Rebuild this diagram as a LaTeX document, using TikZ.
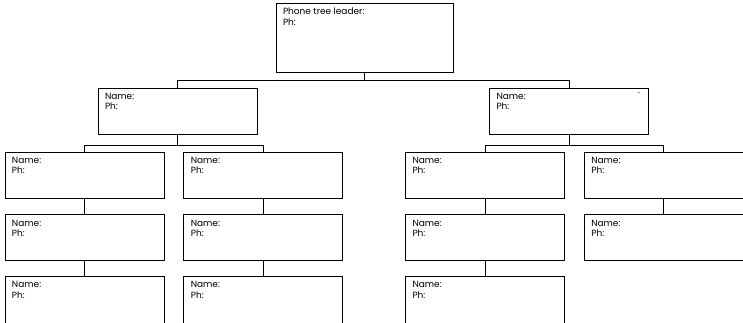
\documentclass[tikz,border=0pt]{standalone}
\usepackage{fontspec}
\setmainfont{Poppins}
\usetikzlibrary{positioning}

\begin{document}
\begin{tikzpicture}[x=1pt, y=-1pt, line width=0.8pt]
    \tikzset{
      txt/.style={anchor=north west, align=left, inner sep=0pt, xshift=7pt, yshift=-5pt, font=\fontsize{9}{10.5}\selectfont},
      card/.style={draw, minimum width=159pt, minimum height=46pt, inner sep=0pt, label={[txt]north west:Name:\\Ph:}},
    }
    \useasboundingbox (0,0) rectangle (743,322);
    \clip (0,0) rectangle (743,322);
    \node [draw, minimum width=177pt, minimum height=69pt, label={[txt]north west:Phone tree leader:\\Ph:}] (lead) at (364.5,37.5) {};
    \node [card] (na) at (177.5,111) {};
    \node [card] (nb) at (569,111) {};
    \node [font=\fontsize{6}{6}\selectfont, inner sep=0pt] (mark) at (639,94) {-};
    \node [card] (a1) at (84.5,175) {};
    \node [card, right=19pt of a1] (b1) {};
    \node [card] (c1) at (485,175) {};
    \node [card, right=19pt of c1] (d1) {};
    \node [card, below=16pt of a1] (a2) {};
    \node [card, below=16pt of b1] (b2) {};
    \node [card, below=16pt of c1] (c2) {};
    \node [card, below=16pt of d1] (d2) {};
    \node [card, minimum height=52pt, below=15pt of a2] (a3) {};
    \node [card, minimum height=52pt, below=15pt of b2] (b3) {};
    \node [card, minimum height=52pt, below=15pt of c2] (c3) {};
    \draw (lead.south) -- ++(0,8) -| (na.north);
    \draw (lead.south) -- ++(0,8) -| (nb.north);
    \draw (na.south) -- ++(0,11) -| (a1.north);
    \draw (na.south) -- ++(0,11) -| (b1.north);
    \draw (nb.south) -- ++(0,11) -| (c1.north);
    \draw (nb.south) -- ++(0,11) -| (d1.north);
    \draw (a1) edge (a2) (a2) edge (a3) (b1) edge (b2) (b2) edge (b3)
          (c1) edge (c2) (c2) edge (c3) (d1) edge (d2);

  \end{tikzpicture}
\end{document}
